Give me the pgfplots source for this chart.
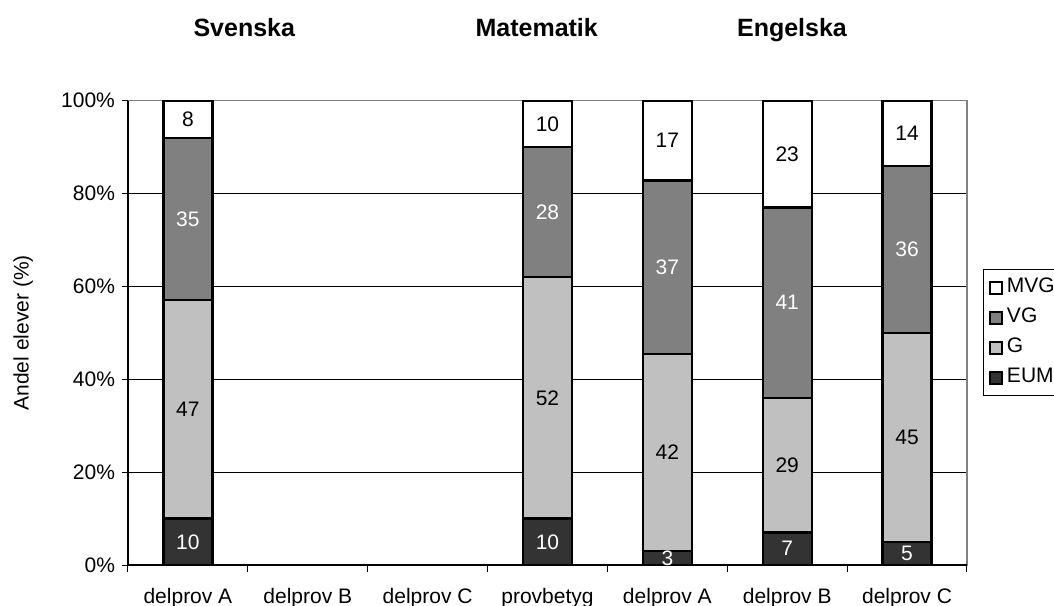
\documentclass[border=0pt]{standalone}
\usepackage{pgfplots}
\pgfplotsset{compat=1.18}
\usepackage{pgfplotstable}
\usepackage{fontspec}
\setmainfont{Liberation Sans}

\definecolor{eum}{HTML}{333333}
\definecolor{gfill}{HTML}{C0C0C0}
\definecolor{vg}{HTML}{808080}
\definecolor{ram}{HTML}{808080}

% andel elever, normerad till 100 per stapel
\pgfplotstableread{
x  eum   g     vg    mvg
0  10    47    35    8
3  10    52    28    10
4  3.03  42.42 37.37 17.18
5  7     29    41    23
6  5     45    36    14
}\andelar

% etiketter mitt i segmenten (vit text)
\pgfplotstableread{
x  y      lab
0  5      10
0  74.5   35
3  5      10
3  76     28
4  1.5    3
4  64.14  37
5  3.5    7
5  56.5   41
6  2.5    5
6  68     36
}\vita

% etiketter mitt i segmenten (svart text)
\pgfplotstableread{
x  y      lab
0  33.5   47
0  96     8
3  36     52
3  95     10
4  24.24  42
4  91.41  17
5  21.5   29
5  88.5   23
6  27.5   45
6  93     14
}\svarta

\newcommand{\tfont}{\fontsize{10.5}{12.6}\selectfont}

\pgfplotsset{
  bas/.style={
    scale only axis, width=419.5pt, height=232.15pt,
    xmin=-0.5, xmax=6.5, ymin=0, ymax=100,
    clip=false,
  }
}

\begin{document}
\begin{tikzpicture}
\path[use as bounding box] (-64pt,-20pt) rectangle (463pt,282.5pt);

\begin{axis}[bas,
  ybar stacked, bar width=24.5pt,
  axis line style={draw=ram, line width=0.8pt},
  xtick=\empty, ytick={20,40,60,80}, yticklabel=\empty,
  major tick length=0pt,
  ymajorgrids, major grid style={black, line width=0.5pt},
  reverse legend,
  legend style={at={(1,0.5)}, anchor=west, xshift=8pt,
    draw=black, line width=0.5pt, font=\tfont,
    inner xsep=3pt, inner ysep=4pt, row sep=5pt,
    nodes={inner sep=0pt, text height=7.5pt, text depth=2.5pt}},
  legend cell align=left,
  legend image code/.code={\draw[#1, draw=black, line width=1pt] (0pt,-3pt) rectangle (6pt,3pt);},
  every axis plot/.append style={draw=black, line width=1.1pt},
]
\addplot[fill=eum] table[x=x, y=eum]{\andelar};
\addplot[fill=gfill] table[x=x, y=g]{\andelar};
\addplot[fill=vg] table[x=x, y=vg]{\andelar};
\addplot[fill=white] table[x=x, y=mvg]{\andelar};
\legend{\,EUM, \,G, \,VG, \,MVG}
\end{axis}

\begin{axis}[bas,
  axis x line*=bottom, axis y line*=left,
  axis line style={black, line width=0.8pt, -},
  tick align=outside, major tick length=3pt, minor tick length=3.5pt,
  tick style={black, line width=0.5pt},
  ytick={0,20,40,60,80,100},
  yticklabels={0\%,20\%,40\%,60\%,80\%,100\%},
  xtick={0,1,2,3,4,5,6},
  xticklabels={delprov A,delprov B,delprov C,provbetyg,delprov A,delprov B,delprov C},
  major x tick style={draw=none},
  minor xtick={-0.5,0.5,1.5,2.5,3.5,4.5,5.5,6.5},
  ticklabel style={font=\tfont},
  xticklabel style={yshift=-5pt},
  ylabel={Andel elever (\%)},
  ylabel style={at={(axis description cs:-0.125,0.5)}, anchor=center, font=\tfont},
]
\addplot[draw=none, mark=none, nodes near coords, point meta=explicit symbolic,
  every node near coord/.append style={anchor=center, text=white, font=\tfont}]
  table[x=x, y=y, meta=lab]{\vita};
\addplot[draw=none, mark=none, nodes near coords, point meta=explicit symbolic,
  every node near coord/.append style={anchor=center, text=black, font=\tfont}]
  table[x=x, y=y, meta=lab]{\svarta};

\node[anchor=base, font=\bfseries\fontsize{12.5}{15}\selectfont] at (axis cs:0.47,113.9) {Svenska};
\node[anchor=base, font=\bfseries\fontsize{12.5}{15}\selectfont] at (axis cs:2.91,113.9) {Matematik};
\node[anchor=base, font=\bfseries\fontsize{12.5}{15}\selectfont] at (axis cs:5.04,113.9) {Engelska};
\end{axis}
\end{tikzpicture}
\end{document}
